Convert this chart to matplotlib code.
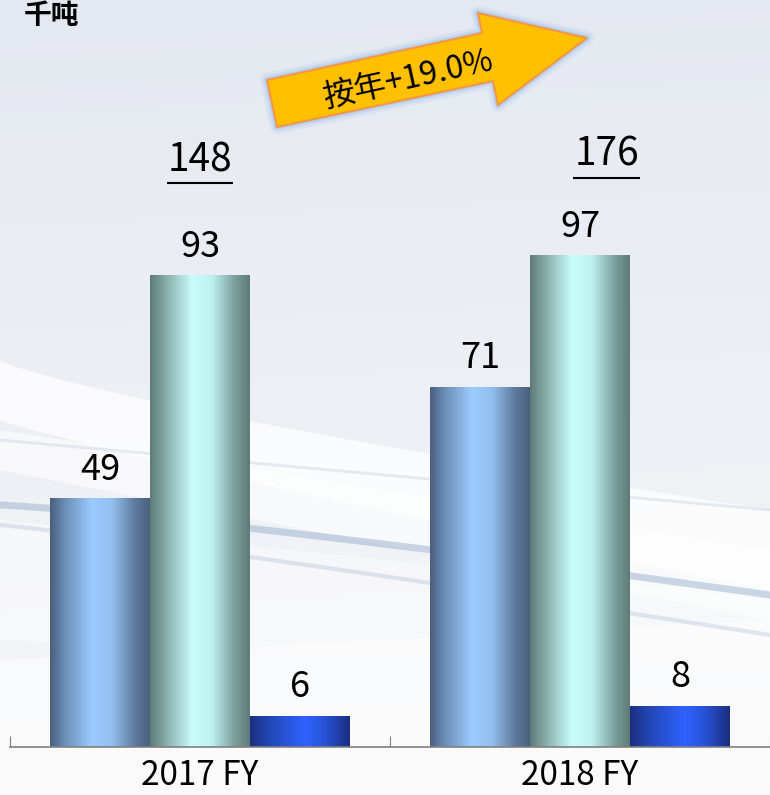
import numpy as np
import matplotlib
matplotlib.use("Agg")
import matplotlib.pyplot as plt
from matplotlib.patches import Polygon
from matplotlib.colors import to_rgb

# data
years = ["2017 FY", "2018 FY"]
series_a = [49, 71]
series_b = [93, 97]
series_c = [6, 8]
totals = [148, 176]
unit_label = "千吨"
growth_label = "按年+19.0%"

FAM = ["Noto Sans CJK SC", "DejaVu Sans"]
plt.rcParams["font.family"] = FAM

W, H = 770, 795
DPI = 100

# gradient stops across each bar (position, colour)
GRAD_A = [(0.0, "#4a5f7c"), (0.15, "#6c8fb8"), (0.42, "#9ccbff"), (0.62, "#92bfef"),
          (0.85, "#5f7a9e"), (1.0, "#4a5f7c")]
GRAD_B = [(0.0, "#5e7c77"), (0.15, "#86aaa6"), (0.42, "#c8fdfc"), (0.62, "#bdf2f0"),
          (0.85, "#7d9e9a"), (1.0, "#5e7c77")]
GRAD_C = [(0.0, "#1a2e80"), (0.2, "#2448b8"), (0.55, "#2f62ff"), (0.75, "#2852d6"),
          (1.0, "#1a2e80")]


def gradient(stops, n=200):
    xs = np.linspace(0, 1, n)
    pos = [s[0] for s in stops]
    cols = np.array([to_rgb(s[1]) for s in stops])
    img = np.zeros((1, n, 3))
    for k in range(3):
        img[0, :, k] = np.interp(xs, pos, cols[:, k])
    return img


fig = plt.figure(figsize=(W / DPI, H / DPI), dpi=DPI)

# ── background ─────────────────────────────────────────────────────────────
bg = fig.add_axes([0, 0, 1, 1], zorder=0)
bg.set_xlim(0, W)
bg.set_ylim(H, 0)
bg.axis("off")
yy = np.linspace(0, 1, 200)[:, None]
xx = np.linspace(0, 1, 200)[None, :]
top = np.array(to_rgb("#e4e8f0"))
bot = np.array(to_rgb("#f4f5f8"))
mix = np.clip(yy * 1.1 + 0.05 * xx, 0, 1)
bgimg = top[None, None, :] * (1 - mix[..., None]) + bot[None, None, :] * mix[..., None]
bg.imshow(bgimg, extent=[0, W, H, 0], aspect="auto", zorder=0)

xs = np.linspace(0, W, 300)
t = xs / W
# white swooshes
bg.fill_between(xs, 360 + 150 * t ** 0.8, 420 + 170 * t ** 0.9, color="white", alpha=0.75, lw=0, zorder=1)
bg.fill_between(xs, 430 + 120 * t, 470 + 150 * t, color="white", alpha=0.6, lw=0, zorder=1)
bg.fill_between(xs, 520 + 80 * t, 640 + 30 * t, color="white", alpha=0.45, lw=0, zorder=1)
bg.fill_between(xs, 660 - 40 * t, 795 + 0 * t, color="white", alpha=0.55, lw=0, zorder=1)
# bluish streaks
bg.plot(xs, 505 + 90 * t ** 1.2, color="#8ea8c8", lw=5, alpha=0.45, zorder=1)
bg.plot(xs, 525 + 110 * t ** 1.1, color="#a9bcd4", lw=3, alpha=0.35, zorder=1)
bg.plot(xs, 440 + 70 * t, color="#c2cfdf", lw=2, alpha=0.4, zorder=1)

# ── bar chart ──────────────────────────────────────────────────────────────
PX_PER_UNIT = 5.065
BASE_PX = 747
ax = fig.add_axes([10 / W, (H - BASE_PX) / H, 760 / W, BASE_PX / H], zorder=1)
ax.patch.set_alpha(0)
ymax = BASE_PX / PX_PER_UNIT
bw = 100 / 380
x = np.arange(len(years))

series = [(series_a, GRAD_A, -bw), (series_b, GRAD_B, 0.0), (series_c, GRAD_C, bw)]
for vals, stops, off in series:
    bars = ax.bar(x + off, vals, width=bw, color="none", edgecolor="none")
    img = gradient(stops)
    for b, v in zip(bars, vals):
        x0 = b.get_x()
        ax.imshow(img, extent=[x0, x0 + b.get_width(), 0, b.get_height()],
                  aspect="auto", zorder=2, interpolation="bilinear")
        ax.annotate(f"{v}", (x0 + b.get_width() / 2, b.get_height()),
                    xytext=(0, 8), textcoords="offset points",
                    ha="center", va="bottom", fontsize=26, color="black")

ax.set_xlim(-0.5, len(years) - 0.5)
ax.set_ylim(0, ymax)
for s in ["top", "right", "left"]:
    ax.spines[s].set_visible(False)
ax.spines["bottom"].set_color("#808080")
ax.spines["bottom"].set_linewidth(1.2)
ax.set_yticks([])
ax.set_xticks(np.arange(len(years) + 1) - 0.5)
ax.set_xticklabels([])
ax.tick_params(axis="x", which="major", direction="in", length=8, color="#808080")
ax.set_xticks(x, minor=True)
ax.set_xticklabels(years, minor=True, fontsize=24)
ax.tick_params(axis="x", which="minor", length=0, pad=8)

# totals, underlined
for i, tot in enumerate(totals):
    tx = i + (0.0 if i == 0 else 0.07)
    ty = (BASE_PX - 160 + (5 if i else 0)) / PX_PER_UNIT
    ax.text(tx, ty, f"{tot}", ha="center", va="center", fontsize=28, color="black")
    ax.plot([tx - 0.088, tx + 0.088], [ty - 4.6, ty - 4.6], color="black", lw=1.5,
            solid_capstyle="butt")

# ── overlay: unit label and growth arrow (pixel coordinates) ──────────────
ov = fig.add_axes([0, 0, 1, 1], zorder=3)
ov.set_xlim(0, W)
ov.set_ylim(H, 0)
ov.axis("off")
ov.patch.set_alpha(0)

ov.text(24, 2, unit_label, ha="left", va="top", fontsize=20,
        fontweight="bold", color="black")

arrow_pts = [(267, 80), (482, 33), (478, 13), (587, 38), (498, 105), (493, 81), (277, 127)]
for lw, a in [(10, 0.12), (6, 0.2), (3, 0.3)]:
    ov.add_patch(Polygon(arrow_pts, closed=True, facecolor="none",
                         edgecolor="#7fb0ea", lw=lw, alpha=a, joinstyle="round"))
ov.add_patch(Polygon(arrow_pts, closed=True, facecolor="#ffc000",
                     edgecolor="#f79646", lw=1.5, joinstyle="miter"))
ov.text(408, 80, growth_label, ha="center", va="center", rotation=12.5,
        rotation_mode="anchor", fontsize=23, color="black")

fig.savefig("out.png", dpi=DPI)
